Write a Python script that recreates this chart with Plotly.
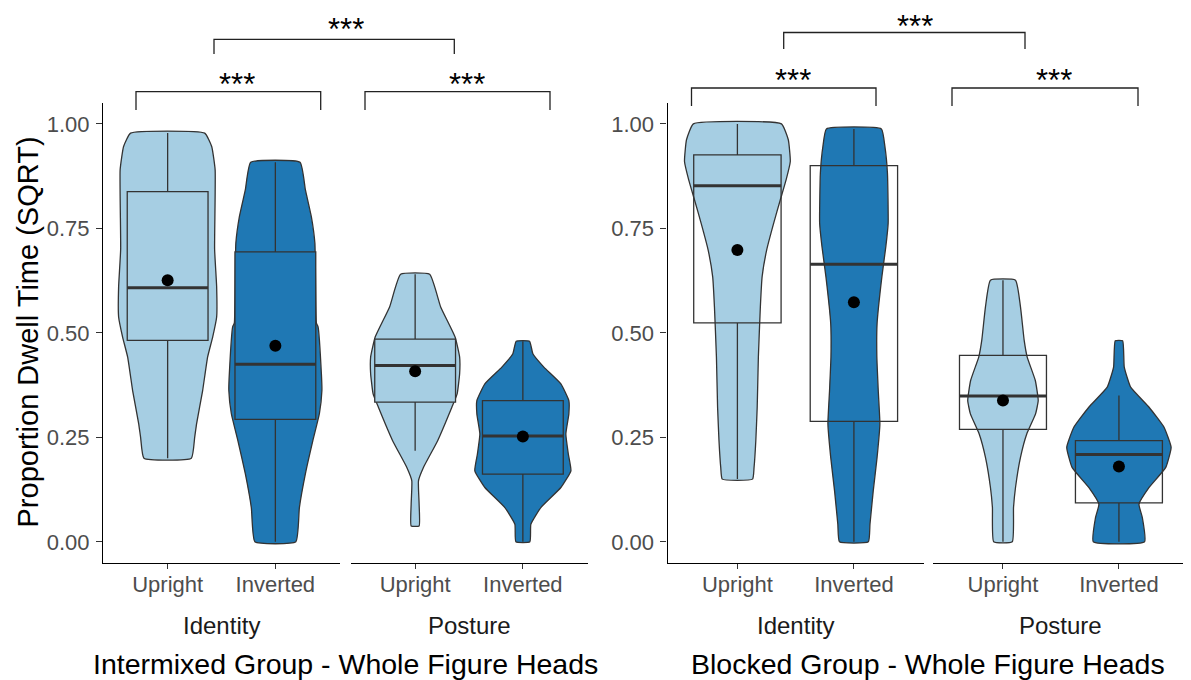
import plotly.graph_objects as go

# the page body has an 8px margin, so the figure is placed 8px in from the top-left
OFF = 8
W, H = 1191 - OFF, 680 - OFF

# ---------------- data ----------------
orientations = ["Upright", "Inverted"]
facets = ["Identity", "Posture"]
groups = ["Intermixed Group - Whole Figure Heads", "Blocked Group - Whole Figure Heads"]
y_ticks = [0.0, 0.25, 0.5, 0.75, 1.0]
y_tick_text = ["0.00", "0.25", "0.50", "0.75", "1.00"]

# box statistics: [lower whisker, q1, median, q3, upper whisker], mean
# Intermixed group
int_id_up_box = [0.20, 0.482, 0.608, 0.838, 0.978];  int_id_up_mean = 0.626
int_id_inv_box = [0.0, 0.293, 0.425, 0.694, 0.908];  int_id_inv_mean = 0.469
int_po_up_box = [0.218, 0.334, 0.422, 0.485, 0.640]; int_po_up_mean = 0.408
int_po_inv_box = [0.0, 0.162, 0.253, 0.338, 0.480];  int_po_inv_mean = 0.252
# Blocked group
blk_id_up_box = [0.15, 0.524, 0.852, 0.926, 1.0];    blk_id_up_mean = 0.698
blk_id_inv_box = [0.0, 0.288, 0.664, 0.900, 0.988];  blk_id_inv_mean = 0.573
blk_po_up_box = [0.0, 0.269, 0.349, 0.446, 0.626];   blk_po_up_mean = 0.338
blk_po_inv_box = [0.0, 0.093, 0.209, 0.242, 0.350];  blk_po_inv_mean = 0.180

# violin density profiles: y levels and half-widths (category units)
int_id_up_vy = [0.20, 0.25, 0.283, 0.362, 0.442, 0.49, 0.538, 0.61, 0.70, 0.89, 0.946, 0.978]
int_id_up_vw = [0.22, 0.251, 0.269, 0.325, 0.371, 0.418, 0.455, 0.455, 0.436, 0.441, 0.409, 0.344]
int_id_inv_vy = [0.0, 0.082, 0.163, 0.242, 0.307, 0.362, 0.403, 0.515, 0.523, 0.714, 0.778, 0.842, 0.908]
int_id_inv_vw = [0.19, 0.223, 0.279, 0.348, 0.409, 0.432, 0.427, 0.396, 0.381, 0.367, 0.334, 0.279, 0.229]
int_po_up_vy = [0.038, 0.09, 0.146, 0.178, 0.242, 0.322, 0.354, 0.402, 0.442, 0.49, 0.562, 0.64]
int_po_up_vw = [0.037, 0.037, 0.031, 0.077, 0.209, 0.341, 0.39, 0.413, 0.413, 0.371, 0.237, 0.135]
int_po_inv_vy = [0.0, 0.042, 0.082, 0.13, 0.17, 0.21, 0.258, 0.306, 0.338, 0.378, 0.418, 0.45, 0.48]
int_po_inv_vw = [0.065, 0.074, 0.167, 0.353, 0.446, 0.422, 0.399, 0.427, 0.427, 0.353, 0.195, 0.093, 0.062]
blk_id_up_vy = [0.15, 0.178, 0.242, 0.322, 0.442, 0.562, 0.634, 0.698, 0.762, 0.818, 0.866, 0.91, 0.962, 1.0]
blk_id_up_vw = [0.13, 0.143, 0.158, 0.17, 0.18, 0.197, 0.212, 0.251, 0.311, 0.368, 0.418, 0.454, 0.437, 0.378]
blk_id_inv_vy = [0.0, 0.042, 0.122, 0.202, 0.282, 0.362, 0.442, 0.522, 0.634, 0.706, 0.762, 0.882, 0.946, 0.988]
blk_id_inv_vw = [0.124, 0.138, 0.166, 0.199, 0.223, 0.209, 0.197, 0.199, 0.24, 0.274, 0.294, 0.288, 0.266, 0.236]
blk_po_up_vy = [0.0, 0.082, 0.13, 0.202, 0.258, 0.306, 0.338, 0.386, 0.442, 0.482, 0.562, 0.626]
blk_po_up_vw = [0.08, 0.091, 0.108, 0.151, 0.205, 0.281, 0.304, 0.279, 0.209, 0.183, 0.151, 0.108]
blk_po_inv_vy = [0.0, 0.058, 0.09, 0.13, 0.178, 0.226, 0.274, 0.322, 0.37, 0.418, 0.481]
blk_po_inv_vw = [0.221, 0.202, 0.173, 0.26, 0.404, 0.45, 0.389, 0.26, 0.101, 0.046, 0.032]

sig_label = "***"

# ---------------- styles ----------------
COL = {"Upright": "#A6CEE3", "Inverted": "#1F78B4"}
EDGE = "#333333"
BOX_W = 0.75
FONT = "Liberation Sans, Arial, sans-serif"

panels = [
    (1, "Identity", True,
     [(int_id_up_vy, int_id_up_vw, int_id_up_box, int_id_up_mean),
      (int_id_inv_vy, int_id_inv_vw, int_id_inv_box, int_id_inv_mean)]),
    (2, "Posture", True,
     [(int_po_up_vy, int_po_up_vw, int_po_up_box, int_po_up_mean),
      (int_po_inv_vy, int_po_inv_vw, int_po_inv_box, int_po_inv_mean)]),
    (3, "Identity", False,
     [(blk_id_up_vy, blk_id_up_vw, blk_id_up_box, blk_id_up_mean),
      (blk_id_inv_vy, blk_id_inv_vw, blk_id_inv_box, blk_id_inv_mean)]),
    (4, "Posture", False,
     [(blk_po_up_vy, blk_po_up_vw, blk_po_up_box, blk_po_up_mean),
      (blk_po_inv_vy, blk_po_inv_vw, blk_po_inv_box, blk_po_inv_mean)]),
]

def ax(prefix, n):
    return prefix if n == 1 else f"{prefix}{n}"

fig = go.Figure()

for n, facet, filled, items in panels:
    xa = ax("x", n)
    ya = ax("y", n)          # base subplot: violins
    yo = ax("y", n + 4)      # overlay subplot: boxes, medians, means
    for k, (vy, vw, box, mean) in enumerate(items):
        pos = k + 1
        ori = orientations[k]
        xs = [pos + w for w in vw] + [pos - w for w in vw[::-1]] + [pos + vw[0]]
        ys = list(vy) + list(vy[::-1]) + [vy[0]]
        fig.add_trace(go.Scatter(
            x=xs, y=ys, mode="lines", fill="toself", fillcolor=COL[ori],
            line=dict(color=EDGE, width=1.3, shape="spline", smoothing=0.4),
            xaxis=xa, yaxis=ya, showlegend=False, hoverinfo="skip"))
    for k, (vy, vw, box, mean) in enumerate(items):
        pos = k + 1
        ori = orientations[k]
        fig.add_trace(go.Box(
            x=[pos], lowerfence=[box[0]], q1=[box[1]], median=[box[2]],
            q3=[box[3]], upperfence=[box[4]], width=BOX_W, whiskerwidth=0,
            fillcolor=COL[ori] if filled else "rgba(0,0,0,0)",
            line=dict(color=EDGE, width=1.3), boxpoints=False,
            xaxis=xa, yaxis=yo, showlegend=False, hoverinfo="skip"))
        fig.add_trace(go.Scatter(
            x=[pos - BOX_W / 2, pos + BOX_W / 2], y=[box[2], box[2]], mode="lines",
            line=dict(color=EDGE, width=3), xaxis=xa, yaxis=yo,
            showlegend=False, hoverinfo="skip"))
        fig.add_trace(go.Scatter(
            x=[pos], y=[mean], mode="markers",
            marker=dict(color="black", size=12), xaxis=xa, yaxis=yo,
            showlegend=False, hoverinfo="skip"))

# ---------------- axes ----------------
def px(x):
    return (x - OFF) / W

def py(y):
    return 1 - (y - OFF) / H

y_dom = [py(562.7), py(103)]
x_doms = {
    1: [px(103), px(340)],
    2: [px(350.5), px(587.5)],
    3: [px(667.5), px(923.8)],
    4: [px(933.4), min(1.0, px(1188.5))],
}
TICKFONT = dict(family=FONT, size=22, color="#4D4D4D")

layout_axes = {}
for n in range(1, 5):
    show_y = n in (1, 3)
    layout_axes[ax("xaxis", n)] = dict(
        domain=x_doms[n], range=[0.4, 2.6], tickvals=[1, 2], ticktext=orientations,
        showline=True, linecolor="black", linewidth=1.2, ticks="outside",
        ticklen=5, tickwidth=1.2, tickcolor="#333333", tickfont=TICKFONT,
        ticklabelstandoff=-3,
        showgrid=False, zeroline=False, anchor=ax("y", n), fixedrange=True)
    layout_axes[ax("yaxis", n)] = dict(
        domain=y_dom, range=[-0.05, 1.05], tickvals=y_ticks, ticktext=y_tick_text,
        showline=show_y, linecolor="black", linewidth=1.2,
        ticks="outside" if show_y else "", ticklen=6, tickwidth=1.2,
        tickcolor="#333333", tickfont=TICKFONT, showticklabels=show_y,
        ticklabelstandoff=2,
        showgrid=False, zeroline=False, anchor=ax("x", n), fixedrange=True)
    layout_axes[ax("yaxis", n + 4)] = dict(
        overlaying=ax("y", n), anchor=ax("x", n), range=[-0.05, 1.05],
        visible=False, showgrid=False, zeroline=False, fixedrange=True)
fig.update_layout(**layout_axes)

# ---------------- annotations ----------------
annotations = []
annotations.append(dict(
    text="Proportion Dwell Time (SQRT)", x=px(27), y=py(332.5), xref="paper", yref="paper",
    textangle=-90, showarrow=False, xanchor="center", yanchor="middle",
    font=dict(family=FONT, size=29, color="black")))
for n, facet, filled, items in panels:
    d = x_doms[n]
    cx = (d[0] + d[1]) / 2 if n != 4 else px((933.4 + 1188.5) / 2)
    annotations.append(dict(
        text=facet, x=cx, y=py(625), xref="paper", yref="paper",
        showarrow=False, xanchor="center", yanchor="middle",
        font=dict(family=FONT, size=24, color="#1A1A1A")))
for gi, g in enumerate(groups):
    cx = px((103 + 587.5) / 2) if gi == 0 else px((667.5 + 1188.5) / 2)
    annotations.append(dict(
        text=g, x=cx, y=py(664), xref="paper", yref="paper",
        showarrow=False, xanchor="center", yanchor="middle",
        font=dict(family=FONT, size=28.5, color="black")))

# significance brackets (pixel geometry of the annotation layer)
brackets = [
    # x0, x1, y_bar, y_leg, star_x, star_y
    (136, 320.7, 91.7, 110, 236.7, 78),
    (365, 550, 91.7, 110, 466.7, 78),
    (214, 454.3, 39.3, 54, 346, 23.5),
    (691.5, 876, 88, 106, 792.7, 73.5),
    (952, 1138, 88, 106, 1054, 73.5),
    (783.7, 1025, 32.5, 49, 915, 20.3),
]
shapes = []
for x0, x1, yb, yl, sx, sy in brackets:
    shapes.append(dict(
        type="path", xref="paper", yref="paper",
        path=f"M {px(x0)},{py(yl)} L {px(x0)},{py(yb)} L {px(x1)},{py(yb)} L {px(x1)},{py(yl)}",
        line=dict(color="#222222", width=1.3)))
    annotations.append(dict(
        text=sig_label, x=px(sx), y=py(sy), xref="paper", yref="paper",
        showarrow=False, xanchor="center", yanchor="middle",
        height=22, valign="top", borderpad=0,
        font=dict(family=FONT, size=31, color="black")))

fig.update_layout(
    width=W, height=H, margin=dict(l=0, r=0, t=0, b=0),
    paper_bgcolor="white", plot_bgcolor="white",
    annotations=annotations, shapes=shapes, showlegend=False,
)

fig.write_html("out.html")
